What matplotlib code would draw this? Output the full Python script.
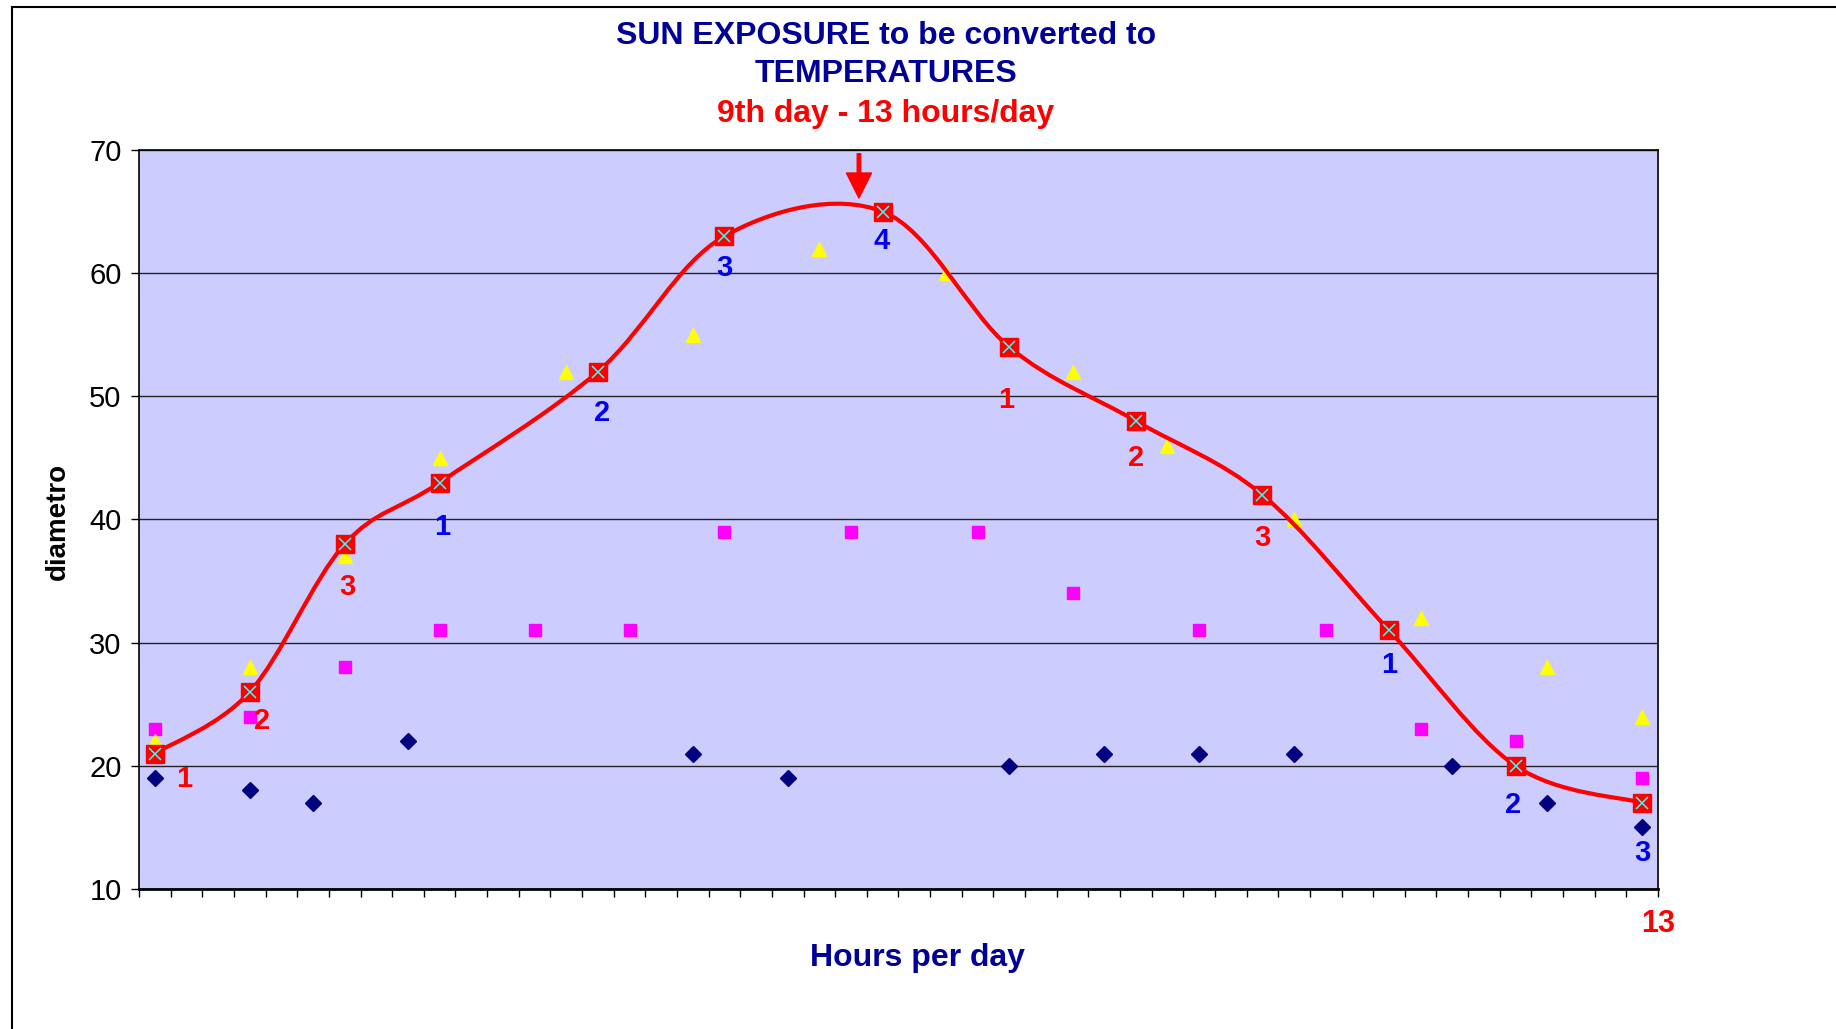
import matplotlib
matplotlib.use("Agg")
from matplotlib import pyplot as plt
from matplotlib.path import Path
from matplotlib.patches import PathPatch
from matplotlib.lines import Line2D
import numpy as np

plt.rcParams['font.family'] = ['Liberation Sans', 'DejaVu Sans']

# category index (48 slots on the x axis) and values
main_x = [0, 3, 6, 9, 14, 18, 23, 27, 31, 35, 39, 43, 47]
main_y = [21, 26, 38, 43, 52, 63, 65, 54, 48, 42, 31, 20, 17]
main_labels = ["1", "2", "3", "1", "2", "3", "4", "1", "2", "3", "1", "2", "3"]

yellow_x = [0, 3, 6, 9, 13, 17, 21, 25, 29, 32, 36, 40, 44, 47]
yellow_y = [22, 28, 37, 45, 52, 55, 62, 60, 52, 46, 40, 32, 28, 24]

magenta_x = [0, 3, 6, 9, 12, 15, 18, 22, 26, 29, 33, 37, 40, 43, 47]
magenta_y = [23, 24, 28, 31, 31, 31, 39, 39, 39, 34, 31, 31, 23, 22, 19]

navy_x = [0, 3, 5, 8, 17, 20, 27, 30, 33, 36, 41, 44, 47]
navy_y = [19, 18, 17, 22, 21, 19, 20, 21, 21, 21, 20, 17, 15]

n_cats = 48
navy = '#000099'
blue = '#0000ee'
red = '#ff0000'

label_colors = [red] * 3 + [blue] * 4 + [red] * 3 + [blue] * 3
label_offsets = [(21, -18), (9, -21), (2, -31), (2, -32), (3, -30), (0, -23), (-1, -21),
                 (-2, -38), (0, -27), (0, -31), (0, -25), (-2, -28), (0, -36)]

fig = plt.figure(figsize=(18.36, 10.29), dpi=100)
ax = fig.add_axes([139 / 1836, 1 - 889 / 1029, (1658 - 139) / 1836, (889 - 150) / 1029])
ax.set_facecolor('#ccccff')

ax.plot(navy_x, navy_y, 'D', color='#000080', ms=8, ls='none', zorder=3)
ax.plot(magenta_x, magenta_y, 's', color='#ff00ff', ms=8.5, ls='none', zorder=3)
ax.plot(yellow_x, yellow_y, '^', color='#ffff00', ms=10, ls='none', zorder=3)

# smoothed line like excel (bezier through the points)
pts = np.column_stack([main_x, main_y]).astype(float)
n = len(pts)
verts = [pts[0]]
codes = [Path.MOVETO]
for i in range(n - 1):
    p0 = pts[max(i - 1, 0)]
    p1 = pts[i]
    p2 = pts[i + 1]
    p3 = pts[min(i + 2, n - 1)]
    verts += [p1 + (p2 - p0) / 6, p2 - (p3 - p1) / 6, p2]
    codes += [Path.CURVE4] * 3
ax.add_patch(PathPatch(Path(verts, codes), fill=False, ec=red, lw=3, zorder=4))

ax.plot(main_x, main_y, 's', color=red, mec=red, ms=13, ls='none', zorder=5)
ax.plot(main_x, main_y, 'x', color='#33ffff', ms=9, mew=1.1, ls='none', zorder=6)

for x, y, t, c, off in zip(main_x, main_y, main_labels, label_colors, label_offsets):
    ax.annotate(t, (x, y), xytext=off, textcoords='offset points', ha='center', va='center',
                color=c, fontsize=21, fontweight='bold', zorder=7)

ax.annotate('', xy=(22.25, 66.1), xytext=(22.25, 69.7),
            arrowprops=dict(facecolor=red, edgecolor=red, width=2.5, headwidth=18, headlength=18),
            zorder=8)

ax.set_xlim(-0.5, n_cats - 0.5)
ax.set_ylim(10, 70)
ax.set_yticks(np.arange(10, 71, 10))
ax.set_xticks(np.arange(-0.5, n_cats, 1))
ax.set_xticklabels([])
ax.tick_params(axis='y', direction='out', length=5.5, width=1, labelsize=21, pad=7)
ax.tick_params(axis='x', direction='out', length=5.5, width=1)
ax.yaxis.grid(True, color='#222222', lw=1)
ax.set_axisbelow(True)
for s in ['left', 'right', 'top']:
    ax.spines[s].set_linewidth(1.2)
ax.spines['bottom'].set_linewidth(2)

ax.text(n_cats - 0.5, -0.047, '13', transform=ax.get_xaxis_transform(), ha='center', va='center',
        color=red, fontsize=22, fontweight='bold')

fig.text(886 / 1836, 1 - 36 / 1029, 'SUN EXPOSURE to be converted to', ha='center', va='center',
         color=navy, fontsize=23, fontweight='bold')
fig.text(886 / 1836, 1 - 74 / 1029, 'TEMPERATURES', ha='center', va='center',
         color=navy, fontsize=23, fontweight='bold')
fig.text(886 / 1836, 1 - 114 / 1029, '9th day - 13 hours/day', ha='center', va='center',
         color=red, fontsize=23, fontweight='bold')
fig.text(917 / 1836, 1 - 958 / 1029, 'Hours per day', ha='center', va='center',
         color=navy, fontsize=23, fontweight='bold')
fig.text(58 / 1836, 1 - 521 / 1029, 'diametro', ha='center', va='center', rotation=90,
         color='black', fontsize=20, fontweight='bold')

# chart area border
fig.add_artist(Line2D([12 / 1836, 12 / 1836], [0, 1 - 7 / 1029], color='black', lw=1.5))
fig.add_artist(Line2D([12 / 1836, 1], [1 - 7 / 1029, 1 - 7 / 1029], color='black', lw=1.5))

plt.savefig('out.png', dpi=100)
